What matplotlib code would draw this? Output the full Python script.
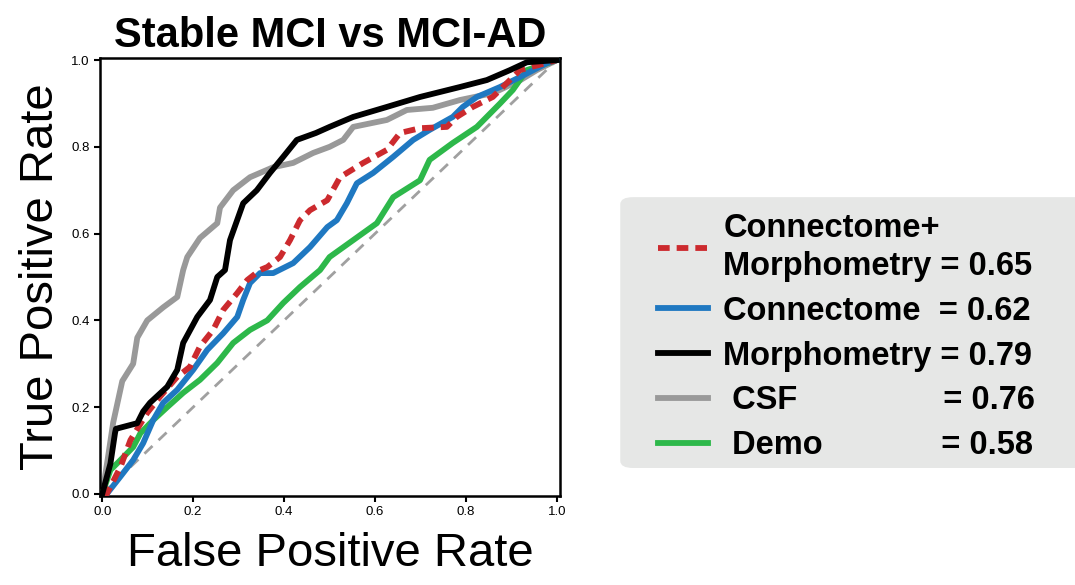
import matplotlib
matplotlib.use("Agg")
import matplotlib.pyplot as plt
from matplotlib.patches import FancyBboxPatch

plt.rcParams["font.family"] = ["Liberation Sans", "DejaVu Sans"]

# ROC curves (FPR, TPR)
combo_fpr = [0.0, 0.01, 0.04, 0.062, 0.099, 0.127, 0.165, 0.193, 0.215, 0.244, 0.266, 0.297,
             0.319, 0.347, 0.363, 0.391, 0.413, 0.435, 0.457, 0.495, 0.523, 0.574, 0.626,
             0.655, 0.699, 0.758, 0.78, 0.815, 0.859, 0.89, 0.919, 1.0]
combo_tpr = [0.0, 0.0, 0.062, 0.124, 0.187, 0.224, 0.27, 0.293, 0.34, 0.378, 0.424, 0.463,
             0.493, 0.516, 0.523, 0.546, 0.585, 0.631, 0.654, 0.677, 0.73, 0.763, 0.793,
             0.832, 0.843, 0.846, 0.869, 0.892, 0.915, 0.947, 0.977, 1.0]

conn_fpr = [0.0, 0.01, 0.04, 0.068, 0.09, 0.112, 0.134, 0.165, 0.2, 0.231, 0.266, 0.297, 0.31,
            0.325, 0.347, 0.376, 0.42, 0.457, 0.495, 0.516, 0.538, 0.56, 0.596, 0.64, 0.684,
            0.72, 0.771, 0.793, 0.824, 0.875, 0.919, 0.978, 1.0]
conn_tpr = [0.0, 0.0, 0.04, 0.078, 0.117, 0.17, 0.21, 0.24, 0.286, 0.332, 0.37, 0.408, 0.447,
            0.486, 0.509, 0.509, 0.532, 0.569, 0.615, 0.631, 0.67, 0.716, 0.74, 0.777, 0.816,
            0.839, 0.869, 0.892, 0.915, 0.938, 0.961, 0.993, 1.0]

morph_fpr = [0.0, 0.018, 0.028, 0.03, 0.077, 0.09, 0.105, 0.143, 0.165, 0.178, 0.209, 0.237,
             0.253, 0.27, 0.281, 0.31, 0.34, 0.369, 0.398, 0.428, 0.47, 0.5, 0.552, 0.626,
             0.699, 0.787, 0.846, 0.897, 0.934, 1.0]
morph_tpr = [0.0, 0.07, 0.14, 0.15, 0.163, 0.19, 0.21, 0.247, 0.286, 0.348, 0.408, 0.447,
             0.5, 0.516, 0.585, 0.67, 0.70, 0.74, 0.777, 0.816, 0.832, 0.846, 0.869, 0.892,
             0.915, 0.938, 0.954, 0.977, 0.995, 1.0]

csf_fpr = [0.0, 0.012, 0.024, 0.044, 0.068, 0.077, 0.099, 0.134, 0.165, 0.178, 0.187, 0.215,
           0.253, 0.259, 0.288, 0.325, 0.376, 0.42, 0.464, 0.5, 0.53, 0.552, 0.626, 0.67,
           0.727, 0.787, 0.86, 0.92, 0.956, 1.0]
csf_tpr = [0.0, 0.08, 0.164, 0.26, 0.30, 0.36, 0.40, 0.43, 0.454, 0.516, 0.546, 0.59, 0.624,
           0.66, 0.70, 0.73, 0.753, 0.763, 0.786, 0.80, 0.816, 0.846, 0.862, 0.885, 0.89,
           0.908, 0.924, 0.954, 0.977, 1.0]

demo_fpr = [0.0, 0.018, 0.04, 0.068, 0.084, 0.112, 0.143, 0.178, 0.215, 0.253, 0.288, 0.325,
            0.363, 0.398, 0.435, 0.479, 0.50, 0.552, 0.604, 0.64, 0.699, 0.72, 0.771, 0.824,
            0.875, 0.903, 0.934, 1.0]
demo_tpr = [0.0, 0.055, 0.078, 0.108, 0.14, 0.17, 0.2, 0.233, 0.263, 0.302, 0.348, 0.378,
            0.40, 0.44, 0.477, 0.516, 0.546, 0.585, 0.624, 0.684, 0.723, 0.77, 0.809, 0.846,
            0.90, 0.931, 0.977, 1.0]

labels = [
    "Connectome+\nMorphometry = 0.65",
    "Connectome  = 0.62",
    "Morphometry = 0.79",
    " CSF                = 0.76",
    " Demo             = 0.58",
]

fig = plt.figure(figsize=(10.75, 5.85), dpi=100)
ax = fig.add_axes([0.093, 0.152, 0.428, 0.749])

lw = 4.2
ax.plot([0, 1], [0, 1], color="#a0a0a0", lw=2, ls=(0, (4, 3)), zorder=1)
ax.plot(csf_fpr, csf_tpr, color="#999999", lw=lw, label=labels[3], zorder=2)
ax.plot(demo_fpr, demo_tpr, color="#2db84a", lw=lw, label=labels[4], zorder=3)
ax.plot(conn_fpr, conn_tpr, color="#1f78c1", lw=lw, label=labels[1], zorder=3)
ax.plot(combo_fpr, combo_tpr, color="#cc2a2e", lw=lw, ls=(0, (2, 1.2)), label=labels[0], zorder=4)
ax.plot(morph_fpr, morph_tpr, color="black", lw=lw, label=labels[2], zorder=5)

ax.set_xlim(-0.005, 1.007)
ax.set_ylim(-0.005, 1.005)
ax.set_xticks([0, 0.2, 0.4, 0.6, 0.8, 1.0])
ax.set_yticks([0, 0.2, 0.4, 0.6, 0.8, 1.0])
ax.tick_params(labelsize=9.5, width=1.5, length=4)
for s in ax.spines.values():
    s.set_linewidth(1.8)

ax.set_title("Stable MCI vs MCI-AD", fontsize=30, fontweight="bold", pad=8)
ax.set_xlabel("False Positive Rate", fontsize=34, labelpad=10)
ax.set_ylabel("True Positive Rate", fontsize=34, labelpad=6)

# grey rounded box behind the legend, running off the right edge
box = FancyBboxPatch((0.577, 0.2), 0.5, 0.463, boxstyle="round,pad=0,rounding_size=0.012",
                     transform=fig.transFigure, facecolor="#e6e7e6", edgecolor="none",
                     zorder=0)
fig.patches.append(box)

handles, labs = ax.get_legend_handles_labels()
order = [labs.index(l) for l in labels]
leg = fig.legend([handles[i] for i in order], [labs[i] for i in order],
                 loc="upper left", bbox_to_anchor=(0.612, 0.636),
                 prop={"size": 23.5, "weight": "bold"}, frameon=False,
                 handlelength=1.55, handletextpad=0.45, labelspacing=0.42,
                 borderpad=0, borderaxespad=0)
leg.get_texts()[0].set_linespacing(1.3)

fig.savefig("out.png", dpi=100)
